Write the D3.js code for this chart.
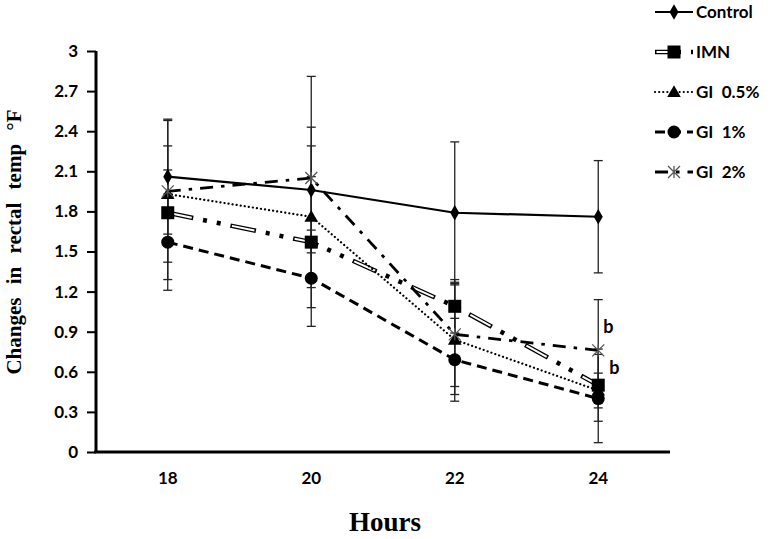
<!DOCTYPE html>
<html>
<head>
<meta charset="utf-8">
<script src="https://cdn.jsdelivr.net/npm/d3@7"></script>
<style>
  body { margin: 0; background: #fff; }
  #plot { width: 774px; height: 539px; }
</style>
</head>
<body>
<div id="plot"></div>
<script>
// values
var hours = ["18", "20", "22", "24"];
var yTicks = [0, 0.3, 0.6, 0.9, 1.2, 1.5, 1.8, 2.1, 2.4, 2.7, 3];

var control    = [2.06, 1.96, 1.79, 1.76];
var controlErr = [0.43, 0.47, 0.53, 0.42];
var imn        = [1.79, 1.57, 1.09, 0.50];
var imnErr     = [0.50, 0.49, 0.20, 0.27];
var gi05       = [1.93, 1.76, 0.84, 0.46];
var gi05Err    = [0.18, 0.53, 0.41, 0.13];
var gi1        = [1.57, 1.30, 0.69, 0.40];
var gi1Err     = [0.36, 0.36, 0.31, 0.33];
var gi2        = [1.95, 2.05, 0.88, 0.76];
var gi2Err     = [0.53, 0.76, 0.39, 0.38];

var seriesNames = ["Control", "IMN", "GI  0.5%", "GI  1%", "GI  2%"];
var sigLabels = [{hour: "24", value: 0.89, text: "b", dx: 5}, {hour: "24", value: 0.58, text: "b", dx: 11}];

var series = [
  {name: seriesNames[0], values: control, err: controlErr, style: "solid",   marker: "diamond"},
  {name: seriesNames[1], values: imn,     err: imnErr,     style: "double",  marker: "square"},
  {name: seriesNames[2], values: gi05,    err: gi05Err,    style: "dotted",  marker: "triangle"},
  {name: seriesNames[3], values: gi1,     err: gi1Err,     style: "dashed",  marker: "circle"},
  {name: seriesNames[4], values: gi2,     err: gi2Err,     style: "dashdot", marker: "star"}
];

var svg = d3.select("#plot").append("svg")
  .attr("width", 774).attr("height", 539);

var x = d3.scaleBand().domain(hours).range([96, 670]);
var y = d3.scaleLinear().domain([0, 3]).range([452, 51]);
function cx(h) { return x(h) + x.bandwidth() / 2; }

// axes
var yAxis = svg.append("g")
  .attr("transform", "translate(96,0)")
  .call(d3.axisLeft(y).tickValues(yTicks).tickSize(9).tickPadding(9)
    .tickFormat(function(d) { return String(+d.toFixed(1)); }));
yAxis.select(".domain").attr("stroke-width", 3).attr("d", "M0,51V452");
yAxis.selectAll(".tick line").attr("stroke-width", 2);
yAxis.selectAll("text")
  .style("font-family", "Lato, 'Open Sans', sans-serif")
  .style("font-weight", "bold")
  .style("font-size", "17px")
  .attr("fill", "#000");

var xAxis = svg.append("g")
  .attr("transform", "translate(0,452)")
  .call(d3.axisBottom(x).tickSize(0).tickPadding(20));
xAxis.select(".domain").attr("stroke-width", 3).attr("d", "M94,0H670");
xAxis.selectAll("text")
  .style("font-family", "Lato, 'Open Sans', sans-serif")
  .style("font-weight", "bold")
  .style("font-size", "17px")
  .attr("fill", "#000");

// axis titles
svg.append("text")
  .attr("transform", "translate(21,242) rotate(-90)")
  .attr("text-anchor", "middle")
  .style("font-family", "'Liberation Serif', 'Times New Roman', serif")
  .style("font-weight", "bold")
  .style("font-size", "21px")
  .style("word-spacing", "8px")
  .text("Changes in rectal temp °F");

svg.append("text")
  .attr("x", 385).attr("y", 531)
  .attr("text-anchor", "middle")
  .style("font-family", "'Liberation Serif', 'Times New Roman', serif")
  .style("font-weight", "bold")
  .style("font-size", "27px")
  .text("Hours");

// line styles
function strokeLine(g, d, style) {
  if (style === "solid") {
    g.append("path").attr("d", d).attr("fill", "none").attr("stroke", "#000").attr("stroke-width", 2.2);
  } else if (style === "double") {
    g.append("path").attr("d", d).attr("fill", "none").attr("stroke", "#000")
      .attr("stroke-width", 4.5).attr("stroke-dasharray", "26 10 4 10 4 10");
    g.append("path").attr("d", d).attr("fill", "none").attr("stroke", "#fff")
      .attr("stroke-width", 2).attr("stroke-dasharray", "23 41").attr("stroke-dashoffset", -1.5);
  } else if (style === "dotted") {
    g.append("path").attr("d", d).attr("fill", "none").attr("stroke", "#000")
      .attr("stroke-width", 2.2).attr("stroke-linecap", "round").attr("stroke-dasharray", "0.1 4");
  } else if (style === "dashed") {
    g.append("path").attr("d", d).attr("fill", "none").attr("stroke", "#000")
      .attr("stroke-width", 3).attr("stroke-dasharray", "10 6");
  } else if (style === "dashdot") {
    g.append("path").attr("d", d).attr("fill", "none").attr("stroke", "#000")
      .attr("stroke-width", 2.8).attr("stroke-dasharray", "13 8 3.5 8");
  }
}

function drawMarker(g, px, py, type) {
  if (type === "diamond") {
    g.append("path").attr("d", d3.symbol(d3.symbolDiamond, 70)()).attr("transform", "translate(" + px + "," + py + ")").attr("fill", "#000");
  } else if (type === "square") {
    g.append("rect").attr("x", px - 6.5).attr("y", py - 6.5).attr("width", 13).attr("height", 13).attr("fill", "#000");
  } else if (type === "triangle") {
    g.append("path").attr("d", d3.symbol(d3.symbolTriangle, 80)()).attr("transform", "translate(" + px + "," + (py + 1) + ")").attr("fill", "#000");
  } else if (type === "circle") {
    g.append("circle").attr("cx", px).attr("cy", py).attr("r", 6.5).attr("fill", "#000");
  } else if (type === "star") {
    var s = 6;
    g.append("path")
      .attr("d", "M" + (px - s) + "," + (py - s) + "L" + (px + s) + "," + (py + s) +
                 "M" + (px + s) + "," + (py - s) + "L" + (px - s) + "," + (py + s) +
                 "M" + px + "," + (py - s) + "L" + px + "," + (py + s))
      .attr("stroke", "#555").attr("stroke-width", 1.3).attr("fill", "none");
  }
}

var line = d3.line().x(function(d) { return cx(d.h); }).y(function(d) { return y(d.v); });

// error bars first, behind lines
series.forEach(function(s) {
  var g = svg.append("g");
  hours.forEach(function(h, i) {
    var top = y(s.values[i] + s.err[i]), bot = y(s.values[i] - s.err[i]), px = cx(h);
    g.append("line").attr("x1", px).attr("x2", px).attr("y1", top).attr("y2", bot)
      .attr("stroke", "#222").attr("stroke-width", 1.3);
    [top, bot].forEach(function(yy) {
      g.append("line").attr("x1", px - 4.5).attr("x2", px + 4.5).attr("y1", yy).attr("y2", yy)
        .attr("stroke", "#222").attr("stroke-width", 1.3);
    });
  });
});

series.forEach(function(s) {
  var g = svg.append("g");
  var pts = hours.map(function(h, i) { return {h: h, v: s.values[i]}; });
  strokeLine(g, line(pts), s.style);
  pts.forEach(function(p) { drawMarker(g, cx(p.h), y(p.v), s.marker); });
});

// significance letters
sigLabels.forEach(function(l) {
  svg.append("text")
    .attr("x", cx(l.hour) + l.dx).attr("y", y(l.value))
    .style("font-family", "Lato, 'Open Sans', sans-serif")
    .style("font-weight", "bold")
    .style("font-size", "18px")
    .text(l.text);
});

// legend
var legend = svg.append("g");
series.forEach(function(s, i) {
  var ly = 12 + i * 40;
  var g = legend.append("g");
  strokeLine(g, "M655," + ly + "H693", s.style);
  drawMarker(g, 674, ly, s.marker);
  g.append("text")
    .attr("x", 696).attr("y", ly + 6)
    .style("font-family", "Lato, 'Open Sans', sans-serif")
    .style("font-weight", "bold")
    .style("font-size", "17px")
    .attr("xml:space", "preserve")
    .style("white-space", "pre")
    .text(s.name);
});
</script>
</body>
</html>
